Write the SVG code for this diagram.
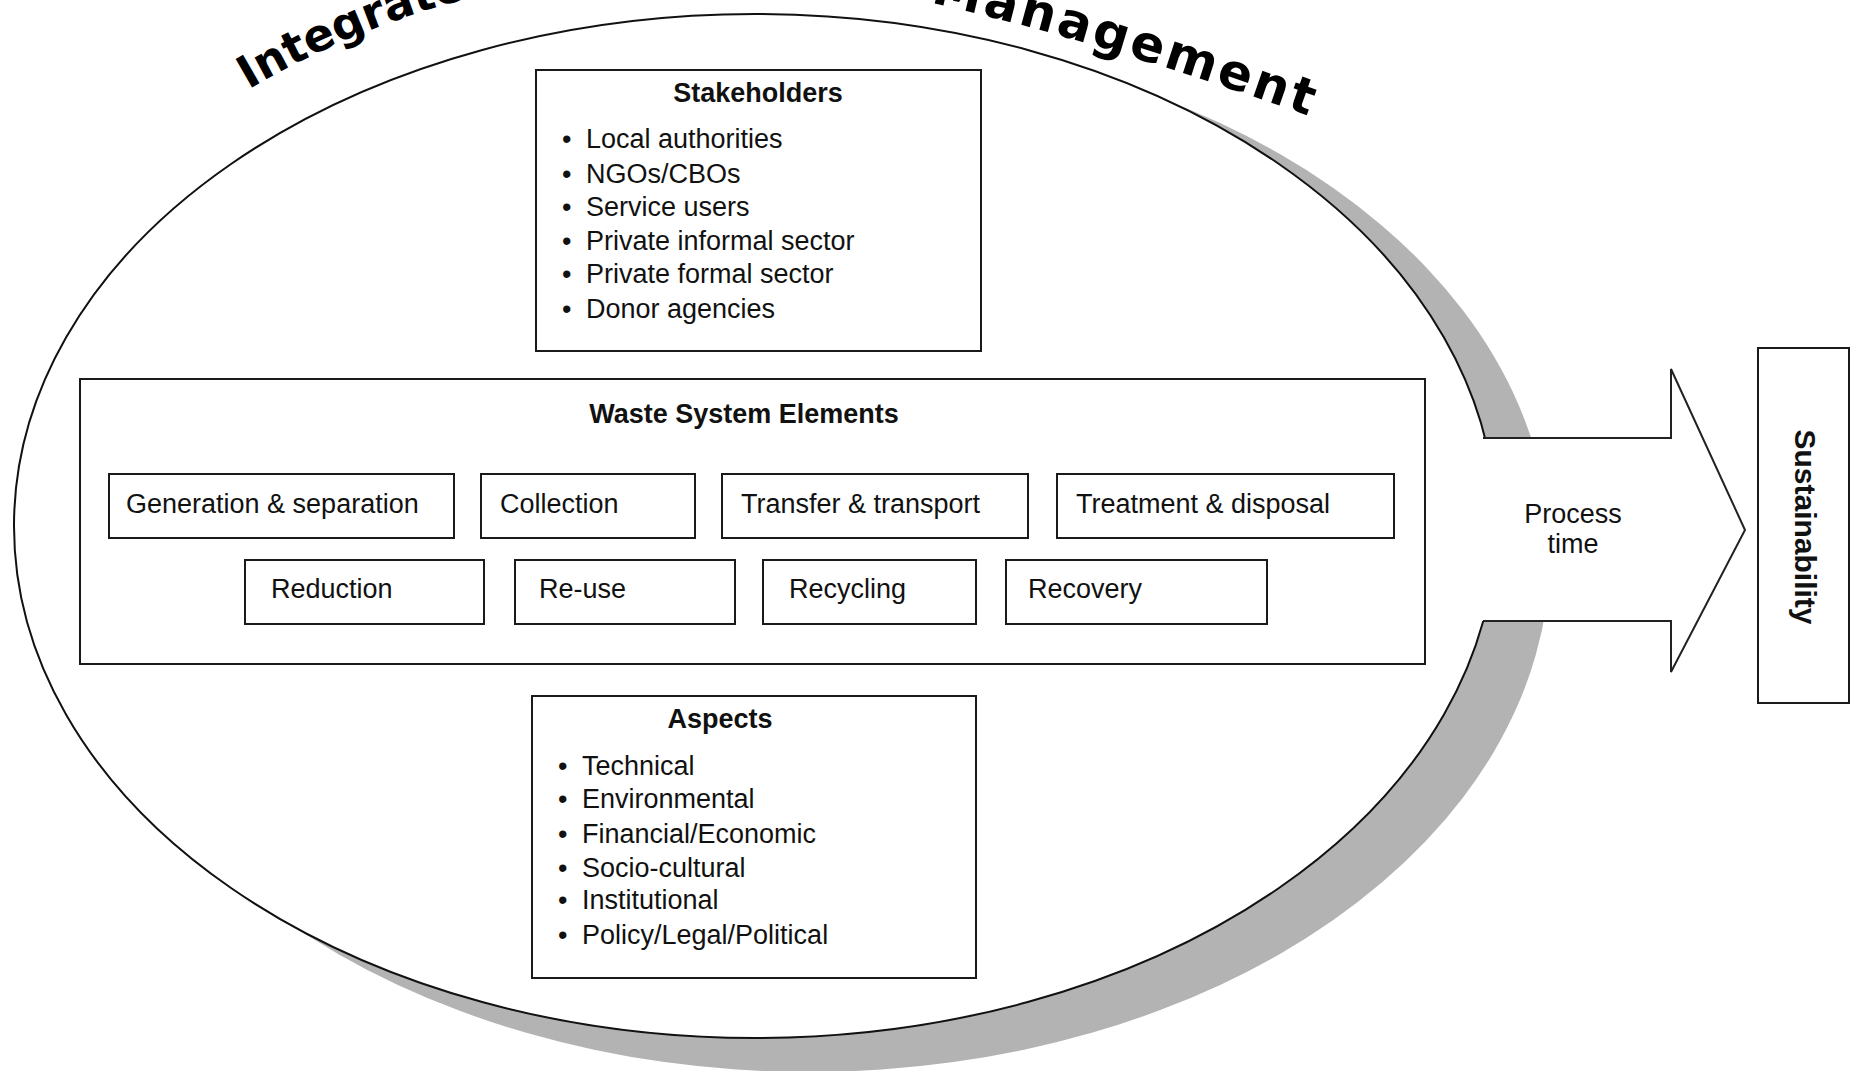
<svg xmlns="http://www.w3.org/2000/svg" width="1851" height="1071" viewBox="0 0 1851 1071">
<style>
  .box{fill:#fff;stroke:#1a1a1a;stroke-width:2}
  .t{font-family:"Liberation Sans",Arial,sans-serif;font-size:27px;fill:#111}
  .b{font-family:"Liberation Sans",Arial,sans-serif;font-size:27px;font-weight:bold;fill:#111}
  .title{font-family:"DejaVu Sans",Verdana,sans-serif;font-size:45px;font-weight:bold;fill:#000}
</style>
<defs>
  <path id="arc" d="M100,201 A848,848 0 0 1 600,-24.6 C800,-52 1100,35 1450,168"/>
</defs>
<rect width="1851" height="1071" fill="#fff"/>
<g id="title">
  <text class="title"><textPath href="#arc" startOffset="186">Integrated<tspan style="font-size:36px"> Sustainable Waste </tspan><tspan dx="33" style="font-size:50px;letter-spacing:3px">Management</tspan></textPath></text>
</g>
<g id="frame">
  <ellipse cx="809" cy="554" rx="741" ry="518" fill="#b3b3b3"/>
  <ellipse cx="755" cy="526" rx="741" ry="512" fill="#fff" stroke="#111" stroke-width="2"/>
</g>
<g id="connectors">
  <polygon points="1440,438 1671,438 1671,369 1745,530 1671,672 1671,621 1440,621" fill="#fff" stroke="none"/>
  <path d="M1483,438 H1671 V369 L1745,530 L1671,672 V621 H1483" fill="none" stroke="#222" stroke-width="2"/>
  <text class="t" x="1573" y="523" text-anchor="middle">Process</text>
  <text class="t" x="1573" y="553" text-anchor="middle">time</text>
</g>
<g id="stakeholders">
  <rect class="box" x="536" y="70" width="445" height="281"/>
  <text class="b" x="758" y="102" text-anchor="middle">Stakeholders</text>
  <text class="t" x="562" y="148">•</text><text class="t" x="586" y="148">Local authorities</text>
  <text class="t" x="562" y="183">•</text><text class="t" x="586" y="183">NGOs/CBOs</text>
  <text class="t" x="562" y="216">•</text><text class="t" x="586" y="216">Service users</text>
  <text class="t" x="562" y="250">•</text><text class="t" x="586" y="250">Private informal sector</text>
  <text class="t" x="562" y="283">•</text><text class="t" x="586" y="283">Private formal sector</text>
  <text class="t" x="562" y="318">•</text><text class="t" x="586" y="318">Donor agencies</text>
</g>
<g id="waste-system-elements">
  <rect class="box" x="80" y="379" width="1345" height="285"/>
  <text class="b" x="744" y="423" text-anchor="middle">Waste System Elements</text>
</g>
<g id="generation"><rect class="box" x="109" y="474" width="345" height="64"/><text class="t" x="126" y="513">Generation &amp; separation</text></g>
<g id="collection"><rect class="box" x="481" y="474" width="214" height="64"/><text class="t" x="500" y="513">Collection</text></g>
<g id="transfer"><rect class="box" x="722" y="474" width="306" height="64"/><text class="t" x="741" y="513">Transfer &amp; transport</text></g>
<g id="treatment"><rect class="box" x="1057" y="474" width="337" height="64"/><text class="t" x="1076" y="513">Treatment &amp; disposal</text></g>
<g id="reduction"><rect class="box" x="245" y="560" width="239" height="64"/><text class="t" x="271" y="598">Reduction</text></g>
<g id="reuse"><rect class="box" x="515" y="560" width="220" height="64"/><text class="t" x="539" y="598">Re-use</text></g>
<g id="recycling"><rect class="box" x="763" y="560" width="213" height="64"/><text class="t" x="789" y="598">Recycling</text></g>
<g id="recovery"><rect class="box" x="1006" y="560" width="261" height="64"/><text class="t" x="1028" y="598">Recovery</text></g>
<g id="aspects">
  <rect class="box" x="532" y="696" width="444" height="282"/>
  <text class="b" x="720" y="728" text-anchor="middle">Aspects</text>
  <text class="t" x="558" y="775">•</text><text class="t" x="582" y="775">Technical</text>
  <text class="t" x="558" y="808">•</text><text class="t" x="582" y="808">Environmental</text>
  <text class="t" x="558" y="843">•</text><text class="t" x="582" y="843">Financial/Economic</text>
  <text class="t" x="558" y="877">•</text><text class="t" x="582" y="877">Socio-cultural</text>
  <text class="t" x="558" y="909">•</text><text class="t" x="582" y="909">Institutional</text>
  <text class="t" x="558" y="944">•</text><text class="t" x="582" y="944">Policy/Legal/Political</text>
</g>
<g id="sustainability">
  <rect class="box" x="1758" y="348" width="91" height="355"/>
  <text class="b" style="font-size:30px" transform="translate(1795,527) rotate(90)" text-anchor="middle">Sustainability</text>
</g>
</svg>
